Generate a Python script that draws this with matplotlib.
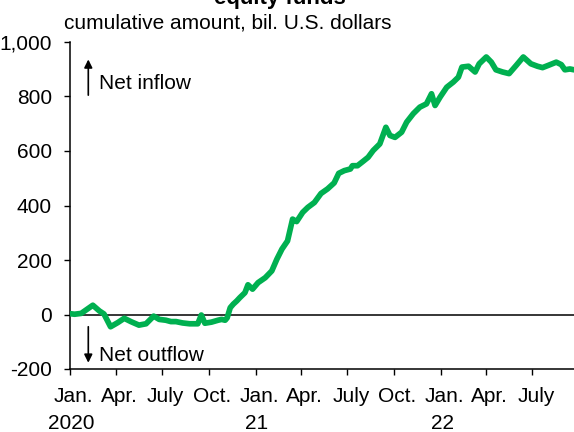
import matplotlib
matplotlib.use("Agg")
import matplotlib.pyplot as plt
import matplotlib.transforms as mtransforms
import numpy as np
import pandas as pd

plt.rcParams['font.family'] = ['Liberation Sans', 'DejaVu Sans']

# ---- data ----
dates = [
    "2020-01-01", "2020-01-10", "2020-01-23", "2020-02-15", "2020-02-28", "2020-03-08",
    "2020-03-21", "2020-04-04", "2020-04-17", "2020-04-30", "2020-05-16", "2020-05-30",
    "2020-06-14", "2020-06-25", "2020-07-08", "2020-07-18", "2020-07-28", "2020-08-10",
    "2020-08-24", "2020-09-09", "2020-09-16", "2020-09-23", "2020-10-06", "2020-10-19",
    "2020-10-26", "2020-11-02", "2020-11-06", "2020-11-12", "2020-11-18", "2020-11-25",
    "2020-12-01", "2020-12-11", "2020-12-17", "2020-12-26", "2021-01-06", "2021-01-20",
    "2021-02-02", "2021-02-12", "2021-02-22", "2021-03-05", "2021-03-15", "2021-03-23",
    "2021-04-04", "2021-04-14", "2021-04-27", "2021-05-10", "2021-05-23", "2021-06-05",
    "2021-06-14", "2021-06-25", "2021-07-07", "2021-07-11", "2021-07-21", "2021-08-01",
    "2021-08-11", "2021-08-21", "2021-09-03", "2021-09-15", "2021-09-23", "2021-10-03",
    "2021-10-16", "2021-10-26", "2021-11-08", "2021-11-21", "2021-12-04", "2021-12-14",
    "2021-12-21", "2021-12-31", "2022-01-13", "2022-01-26", "2022-02-05", "2022-02-12",
    "2022-02-25", "2022-03-10", "2022-03-18", "2022-04-01", "2022-04-11", "2022-04-20",
    "2022-05-03", "2022-05-16", "2022-05-30", "2022-06-13", "2022-06-28", "2022-07-11",
    "2022-07-21", "2022-08-01", "2022-08-17", "2022-08-27", "2022-09-03", "2022-09-13",
    "2022-09-21",
]
cum_flow = [
    3, 1, 4, 34, 13, 2,
    -45, -30, -14, -26, -39, -34,
    -6, -18, -21, -26, -26, -31,
    -34, -34, -2, -32, -28, -21,
    -18, -21, -12, 25, 38, 50,
    62, 80, 109, 93, 117, 135,
    160, 203, 240, 270, 350, 341,
    375, 393, 411, 444, 461, 483,
    518, 528, 534, 546, 546, 562,
    577, 602, 626, 687, 657, 650,
    669, 706, 737, 761, 773, 810,
    767, 798, 834, 853, 871, 908,
    911, 890, 920, 945, 926, 898,
    890, 884, 914, 945, 920, 911,
    906, 914, 926, 917, 898, 901,
    898,
]
tick_dates = ["2020-01-01", "2020-04-01", "2020-07-01", "2020-10-01",
              "2021-01-01", "2021-04-01", "2021-07-01", "2021-10-01",
              "2022-01-01", "2022-04-01", "2022-07-01"]
tick_labels = ["Jan.", "Apr.", "July", "Oct.", "Jan.", "Apr.", "July", "Oct.",
               "Jan.", "Apr.", "July"]
year_dates = ["2020-01-01", "2021-01-01", "2022-01-01"]
year_labels = ["2020", "21", "22"]
y_ticks = [-200, 0, 200, 400, 600, 800, 1000]

title = "equity funds"
subtitle = "cumulative amount, bil. U.S. dollars"

# ---- figure ----
fig = plt.figure(figsize=(5.74, 4.32), dpi=100)
ax = fig.add_axes([70 / 574, 1 - 369 / 432, 1 - 70 / 574, (369 - 42) / 432])

x = pd.to_datetime(dates)
ax.plot(x, cum_flow, color="#00B050", lw=4.1, solid_joinstyle="round",
        solid_capstyle="round", zorder=3)
ax.axhline(0, color="black", lw=1.1, zorder=2)

ax.set_xlim(pd.Timestamp("2020-01-01"), pd.Timestamp("2022-09-21"))
ax.set_ylim(-200, 1000)

for s in ["top", "right"]:
    ax.spines[s].set_visible(False)
for s in ["left", "bottom"]:
    ax.spines[s].set_linewidth(1.1)
    ax.spines[s].set_color("black")

ax.set_yticks(y_ticks)
ax.set_yticklabels([f"{v:,}" for v in y_ticks])
ax.set_xticks(pd.to_datetime(tick_dates))
ax.set_xticklabels(tick_labels)
ax.tick_params(axis="both", direction="out", length=4, width=1.0,
               labelsize=15, colors="black")
ax.tick_params(axis="y", pad=9)
ax.tick_params(axis="x", pad=9)

offset = mtransforms.ScaledTranslation(3.5 / 100, 0, fig.dpi_scale_trans)
for lab in ax.get_xticklabels():
    lab.set_transform(lab.get_transform() + offset)

for d, lab in zip(year_dates, year_labels):
    ax.annotate(lab, xy=(pd.Timestamp(d), 0), xycoords=("data", "axes fraction"),
                xytext=(1, -43.5), textcoords="offset points",
                ha="center", va="baseline", fontsize=15)

# arrows and notes
trans = mtransforms.blended_transform_factory(ax.transAxes, ax.transData)
ax.annotate("", xy=(0.0363, 936), xytext=(0.0363, 805),
            xycoords=trans, textcoords=trans,
            arrowprops=dict(arrowstyle="-|>", color="black", lw=1.2,
                            mutation_scale=12, shrinkA=0, shrinkB=0))
ax.text(0.0585, 826, "Net inflow", transform=trans, fontsize=15,
        ha="left", va="baseline")
ax.annotate("", xy=(0.0363, -177), xytext=(0.0363, -45),
            xycoords=trans, textcoords=trans,
            arrowprops=dict(arrowstyle="-|>", color="black", lw=1.2,
                            mutation_scale=12, shrinkA=0, shrinkB=0))
ax.text(0.0585, -171, "Net outflow", transform=trans, fontsize=15,
        ha="left", va="baseline")

fig.text(280 / 574, 1 - 4 / 432, title, ha="center", va="baseline",
         fontsize=16, fontweight="bold")
fig.text(64 / 574, 1 - 28.3 / 432, subtitle, ha="left", va="baseline",
         fontsize=15)

fig.savefig("out.png", dpi=100)
